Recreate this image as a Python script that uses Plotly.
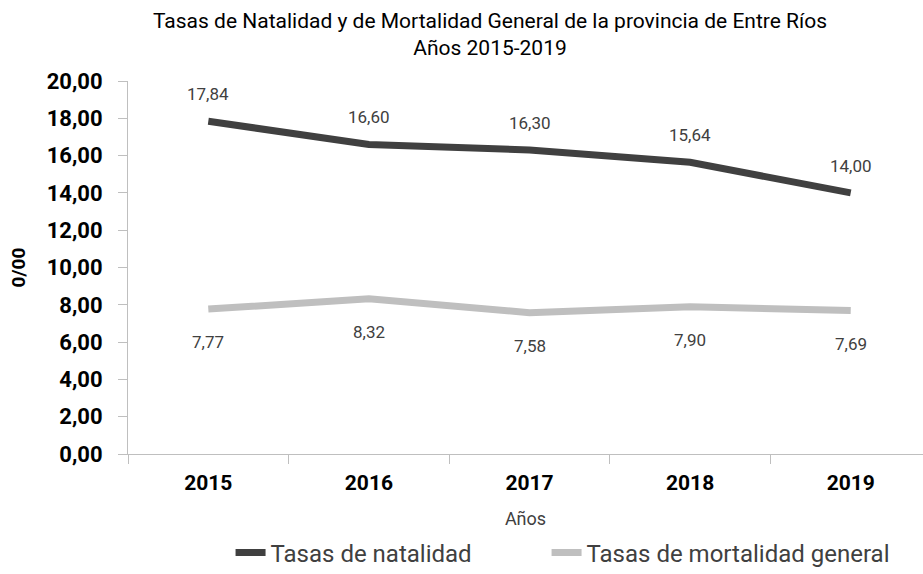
import plotly.graph_objects as go

years = ["2015", "2016", "2017", "2018", "2019"]
natalidad = [17.84, 16.60, 16.30, 15.64, 14.00]
mortalidad = [7.77, 8.32, 7.58, 7.90, 7.69]
y_ticks = [0, 2, 4, 6, 8, 10, 12, 14, 16, 18, 20]

FONT = "Roboto, sans-serif"
TXT = "#404040"

fig = go.Figure()
fig.add_trace(go.Scatter(
    x=years, y=natalidad, mode="lines", name="Tasas de natalidad",
    line=dict(color="#404040", width=7), legend="legend", showlegend=True,
))
fig.add_trace(go.Scatter(
    x=years, y=mortalidad, mode="lines", name="Tasas de mortalidad general",
    line=dict(color="#bfbfbf", width=7), legend="legend2", showlegend=True,
))

# data labels: above the dark line, below the light one (x as category index)
for i, v in enumerate(natalidad):
    fig.add_annotation(x=i, y=v, text=f"{v:.2f}".replace(".", ","), showarrow=False,
                       yshift=27, font=dict(family=FONT, size=17, color=TXT))
for i, v in enumerate(mortalidad):
    fig.add_annotation(x=i, y=v, text=f"{v:.2f}".replace(".", ","), showarrow=False,
                       yshift=-33, font=dict(family=FONT, size=17, color=TXT))

legend_common = dict(orientation="h", xanchor="left", y=-0.205, yanchor="top",
                     font=dict(family=FONT, size=24, color=TXT))

fig.update_layout(
    width=923, height=574,
    margin=dict(l=128, r=0, t=81, b=120, autoexpand=False),
    plot_bgcolor="white", paper_bgcolor="white",
    separators=",.",
    showlegend=True,
    title=dict(
        text="Tasas de Natalidad y de Mortalidad General de la provincia de Entre Ríos<br>Años 2015-2019",
        x=490 / 923, xanchor="center", y=1 - 28 / 574, yanchor="middle",
        font=dict(family=FONT, size=21, color="black"),
    ),
    legend=dict(x=0.129, **legend_common),
    legend2=dict(x=0.5265, **legend_common),
    font=dict(family=FONT, color="black"),
)
fig.update_xaxes(
    type="category", range=[-0.5, 4.45], automargin=False,
    showline=True, linecolor="#bfbfbf", linewidth=1,
    ticks="outside", tickson="boundaries", ticklen=9, tickcolor="#bfbfbf",
    ticklabelstandoff=10,
    showgrid=False, zeroline=False,
    tickfont=dict(family=FONT, size=21, color="black", weight="bold"),
    title=dict(text="Años", font=dict(family=FONT, size=18, color=TXT), standoff=18),
)
fig.update_yaxes(
    range=[0, 20], tickvals=y_ticks, tickformat=".2f", automargin=False,
    showline=True, linecolor="#bfbfbf", linewidth=1,
    ticks="outside", ticklen=9, tickcolor="#bfbfbf",
    ticklabelstandoff=11,
    showgrid=False, zeroline=False,
    tickfont=dict(family=FONT, size=22, color="black", weight="bold"),
    title=dict(text="0/00", font=dict(family=FONT, size=19, color="black", weight="bold"), standoff=16),
)

# drop the default 8px body margin so the figure sits at the page corner
fig.write_html("out.html", config={"displayModeBar": False},
               post_script="document.body.style.margin='0';")
